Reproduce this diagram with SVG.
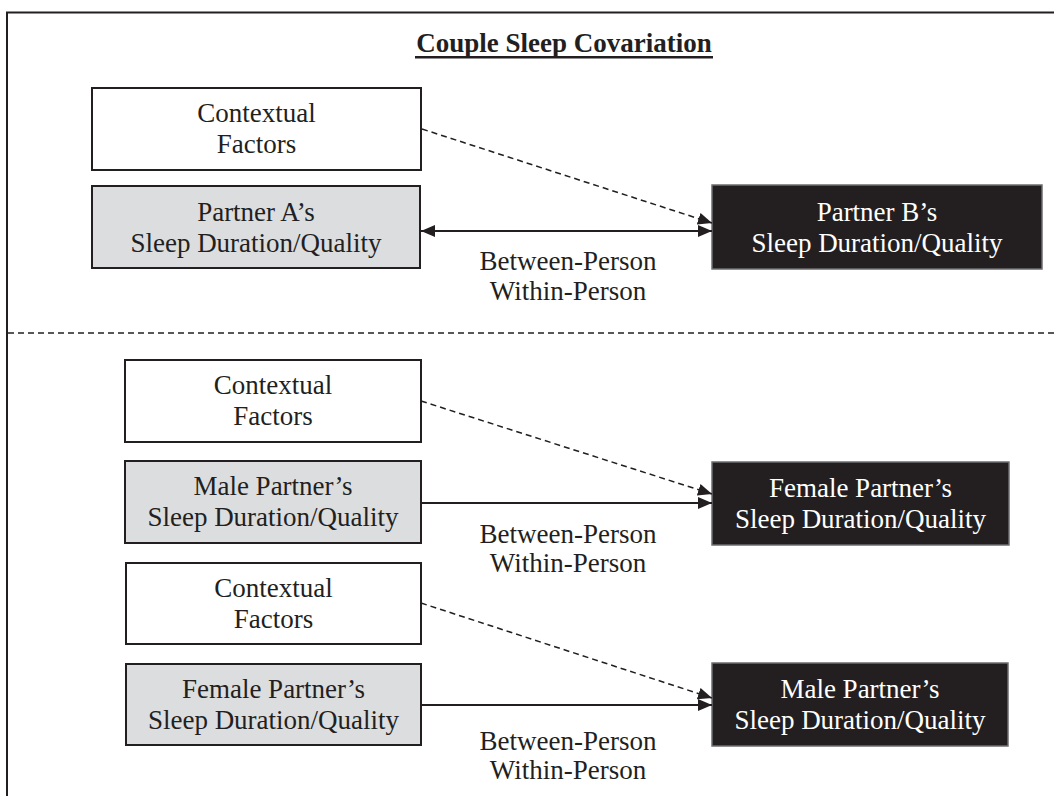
<svg xmlns="http://www.w3.org/2000/svg" width="1054" height="796" viewBox="0 0 1054 796">
  <style>
    .t { font-family: "Liberation Serif", "Times New Roman", serif; font-size: 27px; text-anchor: middle; fill: #231f20; }
    .w { fill: #ffffff; }
    .title { font-weight: bold; }
    .box { stroke: #231f20; stroke-width: 2; }
    .white { fill: #ffffff; }
    .gray { fill: #dcdddf; }
    .black { fill: #231f20; stroke: #6d6e71; stroke-width: 1.5; }
    .solid { stroke: #231f20; stroke-width: 2; fill: none; }
    .dash { stroke: #231f20; stroke-width: 1.5; fill: none; stroke-dasharray: 6 4; }
    .frame { stroke: #231f20; stroke-width: 2; fill: none; }
  </style>
  <defs>
    <marker id="ah" markerUnits="userSpaceOnUse" markerWidth="14" markerHeight="12" refX="14" refY="6" orient="auto-start-reverse">
      <path d="M0,0 L14,6 L0,12 z" fill="#231f20"/>
    </marker>
  </defs>
  <rect width="1054" height="796" fill="#ffffff"/>
  <g id="frame">
    <path class="frame" d="M7,796 V12.5 H1054"/>
    <line class="dash" x1="8" y1="333" x2="1054" y2="333"/>
  </g>
  <g id="title">
    <text class="t title" x="564" y="52">Couple Sleep Covariation</text>
    <rect x="415" y="56" width="298" height="2.5" fill="#231f20"/>
  </g>

  <!-- Section 1 -->
  <g id="ctx1">
    <rect class="box white" x="92" y="88" width="329" height="82"/>
    <text class="t" x="256.5" y="122">Contextual</text>
    <text class="t" x="256.5" y="153">Factors</text>
  </g>
  <g id="partnerA">
    <rect class="box gray" x="92" y="186" width="328" height="82"/>
    <text class="t" x="256" y="221">Partner A’s</text>
    <text class="t" x="256" y="252">Sleep Duration/Quality</text>
  </g>
  <g id="partnerB">
    <rect class="black" x="712" y="185" width="330" height="84"/>
    <text class="t w" x="877" y="221">Partner B’s</text>
    <text class="t w" x="877" y="252">Sleep Duration/Quality</text>
  </g>

  <!-- Section 2 -->
  <g id="ctx2">
    <rect class="box white" x="125" y="360" width="296" height="82"/>
    <text class="t" x="273" y="394">Contextual</text>
    <text class="t" x="273" y="425">Factors</text>
  </g>
  <g id="maleA">
    <rect class="box gray" x="125" y="461" width="296" height="82"/>
    <text class="t" x="273" y="495">Male Partner’s</text>
    <text class="t" x="273" y="526">Sleep Duration/Quality</text>
  </g>
  <g id="femaleB">
    <rect class="black" x="712" y="462" width="297" height="83"/>
    <text class="t w" x="860.5" y="497">Female Partner’s</text>
    <text class="t w" x="860.5" y="528">Sleep Duration/Quality</text>
  </g>

  <!-- Section 3 -->
  <g id="ctx3">
    <rect class="box white" x="126" y="563" width="295" height="81"/>
    <text class="t" x="273.5" y="597">Contextual</text>
    <text class="t" x="273.5" y="628">Factors</text>
  </g>
  <g id="femaleA">
    <rect class="box gray" x="126" y="664" width="295" height="81"/>
    <text class="t" x="273.5" y="698">Female Partner’s</text>
    <text class="t" x="273.5" y="729">Sleep Duration/Quality</text>
  </g>
  <g id="maleB">
    <rect class="black" x="712" y="663" width="296" height="83"/>
    <text class="t w" x="860" y="698">Male Partner’s</text>
    <text class="t w" x="860" y="729">Sleep Duration/Quality</text>
  </g>

  <g id="connectors">
    <line class="solid" x1="421" y1="231" x2="712" y2="231" marker-start="url(#ah)" marker-end="url(#ah)"/>
    <line class="dash" x1="422" y1="129" x2="712" y2="223" marker-end="url(#ah)"/>
    <line class="solid" x1="421" y1="503" x2="712" y2="503" marker-end="url(#ah)"/>
    <line class="dash" x1="421" y1="401" x2="712" y2="494" marker-end="url(#ah)"/>
    <line class="solid" x1="421" y1="705" x2="712" y2="705" marker-end="url(#ah)"/>
    <line class="dash" x1="421" y1="603" x2="712" y2="698" marker-end="url(#ah)"/>
  </g>

  <g id="labels">
    <text class="t" x="568" y="270">Between-Person</text>
    <text class="t" x="568" y="300">Within-Person</text>
    <text class="t" x="568" y="543">Between-Person</text>
    <text class="t" x="568" y="572">Within-Person</text>
    <text class="t" x="568" y="750">Between-Person</text>
    <text class="t" x="568" y="779">Within-Person</text>
  </g>
</svg>
